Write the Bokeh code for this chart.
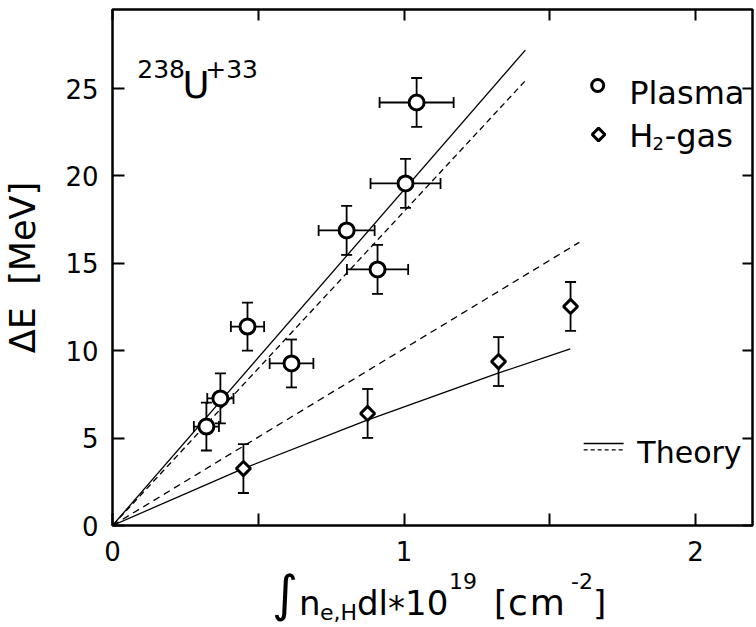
from bokeh.plotting import figure
from bokeh.layouts import column
from bokeh.models import (Range1d, LinearAxis, FixedTicker, Whisker, TeeHead,
                          ColumnDataSource, Label, Div, CustomLabelingPolicy)
from bokeh.embed import file_html
from bokeh.resources import INLINE

# ---------------- data ----------------
plasma_x = [0.322, 0.370, 0.463, 0.614, 0.803, 0.909, 1.005, 1.043]
plasma_y = [5.66, 7.27, 11.38, 9.27, 16.88, 14.65, 19.57, 24.20]
plasma_xerr = [0.043, 0.045, 0.057, 0.075, 0.096, 0.105, 0.120, 0.127]
plasma_yerr = [1.37, 1.43, 1.37, 1.37, 1.40, 1.40, 1.40, 1.40]

h2_x = [0.449, 0.875, 1.324, 1.571]
h2_y = [3.26, 6.41, 9.38, 12.53]
h2_yerr = [1.40, 1.40, 1.40, 1.40]

theory_plasma_solid_x = [0.0, 1.416]
theory_plasma_solid_y = [0.0, 27.2]
theory_plasma_dash_x = [0.0, 1.419]
theory_plasma_dash_y = [0.0, 25.5]
theory_h2_solid_x = [0.0, 0.446, 0.869, 1.320, 1.570]
theory_h2_solid_y = [0.0, 3.24, 6.00, 8.70, 10.10]
theory_h2_dash_x = [0.0, 1.601]
theory_h2_dash_y = [0.0, 16.2]

x_major_ticks = [0, 1, 2]
x_minor_ticks = [0.5, 1.5]
y_ticks = [0, 5, 10, 15, 20, 25]

FONT = "DejaVu Sans"
FIG_H = 571

p = figure(width=756, height=FIG_H,
           x_range=Range1d(0, 2.195), y_range=Range1d(0, 29.52),
           x_axis_type=None, y_axis_type=None,
           output_backend="svg", toolbar_location=None,
           min_border_left=112, min_border_right=4,
           min_border_top=9, min_border_bottom=FIG_H - 525)
p.background_fill_color = "white"
p.border_fill_color = "white"
p.outline_line_color = "black"
p.outline_line_width = 2.5

no_labels = CustomLabelingPolicy(code="""
    for (let i = 0; i < indices.size; i++) { indices.unset(i) }
    return indices
""")


def style_axis(ax, tick_in, label_size="0px", standoff=0, hide=False):
    ax.axis_line_color = None
    ax.major_tick_in = tick_in
    ax.major_tick_out = 0
    ax.minor_tick_in = tick_in
    ax.minor_tick_out = 0
    ax.major_tick_line_width = 2
    ax.minor_tick_line_width = 2
    ax.major_tick_line_color = "black"
    ax.minor_tick_line_color = "black"
    ax.major_label_text_font = FONT
    ax.major_label_text_font_size = label_size
    ax.major_label_text_color = "black"
    ax.major_label_standoff = standoff
    if hide:
        ax.major_label_policy = no_labels


bottom = LinearAxis(ticker=FixedTicker(ticks=x_major_ticks, minor_ticks=x_minor_ticks))
style_axis(bottom, 12, "26px", 15)
p.add_layout(bottom, "below")

top = LinearAxis(ticker=FixedTicker(ticks=x_major_ticks, minor_ticks=x_minor_ticks))
style_axis(top, 11, hide=True)
p.add_layout(top, "above")

left = LinearAxis(ticker=FixedTicker(ticks=y_ticks))
style_axis(left, 12, "26px", 14)
left.axis_label = "ΔE\u00a0\u00a0[MeV]"
left.axis_label_text_font = FONT
left.axis_label_text_font_size = "35px"
left.axis_label_text_font_style = "normal"
left.axis_label_text_color = "black"
left.axis_label_standoff = 19
p.add_layout(left, "left")

right = LinearAxis(ticker=FixedTicker(ticks=y_ticks))
style_axis(right, 10, hide=True)
p.add_layout(right, "right")

# ---------------- theory curves ----------------
p.line(theory_plasma_solid_x, theory_plasma_solid_y, line_color="black", line_width=1.3)
p.line(theory_plasma_dash_x, theory_plasma_dash_y, line_color="black", line_width=1.3,
       line_dash="6 4")
p.line(theory_h2_solid_x, theory_h2_solid_y, line_color="black", line_width=1.3)
p.line(theory_h2_dash_x, theory_h2_dash_y, line_color="black", line_width=1.3,
       line_dash="7 5")

# ---------------- error bars ----------------
ps = ColumnDataSource(dict(
    x=plasma_x, y=plasma_y,
    ylo=[a - b for a, b in zip(plasma_y, plasma_yerr)],
    yhi=[a + b for a, b in zip(plasma_y, plasma_yerr)],
    xlo=[a - b for a, b in zip(plasma_x, plasma_xerr)],
    xhi=[a + b for a, b in zip(plasma_x, plasma_xerr)],
))
hs = ColumnDataSource(dict(
    x=h2_x, y=h2_y,
    ylo=[a - b for a, b in zip(h2_y, h2_yerr)],
    yhi=[a + b for a, b in zip(h2_y, h2_yerr)],
))


def head():
    return TeeHead(size=11, line_width=1.8, line_color="black")


for src in (ps, hs):
    p.add_layout(Whisker(source=src, base="x", lower="ylo", upper="yhi",
                         dimension="height", line_width=1.8, line_color="black",
                         lower_head=head(), upper_head=head()))
p.add_layout(Whisker(source=ps, base="y", lower="xlo", upper="xhi",
                     dimension="width", line_width=1.8, line_color="black",
                     lower_head=head(), upper_head=head()))

# ---------------- markers ----------------
p.scatter("x", "y", source=ps, marker="circle", size=15, fill_color="white",
          line_color="black", line_width=3)
p.scatter("x", "y", source=hs, marker="square", angle=0.785398, size=10,
          fill_color="white", line_color="black", line_width=3)

# ---------------- legend (drawn by hand) ----------------
p.scatter([1.664], [25.17], marker="circle", size=12, fill_color="white",
          line_color="black", line_width=3)
p.scatter([1.667], [22.37], marker="square", angle=0.785398, size=9,
          fill_color="white", line_color="black", line_width=3)
p.line([1.616, 1.753], [4.69, 4.69], line_color="black", line_width=1.3)
p.line([1.616, 1.753], [4.33, 4.33], line_color="black", line_width=1.3, line_dash="4 3")


def lab(x, y, text, size):
    p.add_layout(Label(x=x, y=y, text=text, text_font=FONT,
                       text_font_size=size, text_color="black",
                       text_baseline="alphabetic", text_align="left"))


lab(1.772, 24.77, "Plasma", "32px")
lab(1.772, 22.31, "H", "32px")
lab(1.852, 21.85, "2", "18px")
lab(1.894, 22.31, "-gas", "32px")
lab(1.800, 4.18, "Theory", "30px")

# 238U+33
lab(0.085, 26.14, "238", "25px")
lab(0.240, 25.17, "U", "37px")
lab(0.318, 26.14, "+33", "25px")


# ---------------- x-axis title (HTML below the plot) ----------------
def piece(x, top, size, text, extra=""):
    return (f'<span style="position:absolute;left:{x}px;top:{top}px;'
            f'font-size:{size}px;line-height:1;white-space:pre;{extra}">{text}</span>')


xtitle = "".join([
    piece(272, -2, 50, "∫"),
    piece(299, 15, 34, "n"),
    piece(320, 31, 22, "e,H"),
    piece(357, 15, 34, "dl"),
    piece(388, 20, 34, "*"),
    piece(405, 15, 34, "10"),
    piece(449, 0, 22, "19"),
    piece(494, 15, 34, "["),
    piece(508, 14, 36, "cm", "letter-spacing:2px;"),
    piece(571, 0, 22, "-2"),
    piece(593, 15, 34, "]"),
])
div = Div(text=(f'<div style="position:relative;width:756px;height:{627 - FIG_H}px;'
                f'font-family:\'DejaVu Sans\';color:black;">{xtitle}</div>'),
          width=756, height=627 - FIG_H, margin=0)

layout = column(p, div, spacing=0, margin=0)
open("out.html", "w").write(file_html(layout, INLINE))
